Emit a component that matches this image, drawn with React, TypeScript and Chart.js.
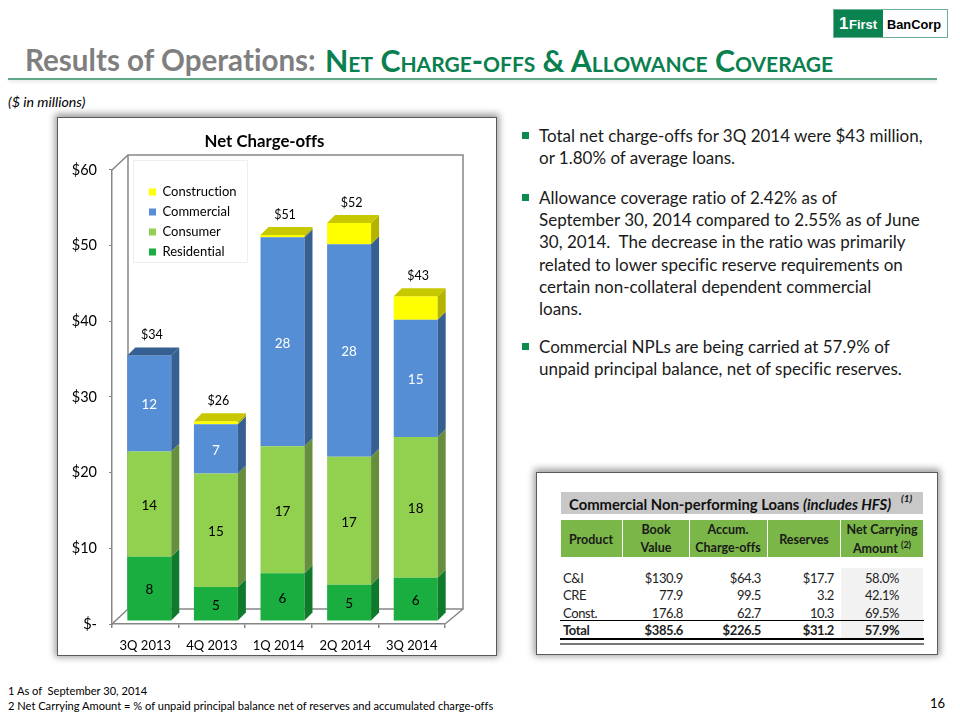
import React, { useEffect, useRef } from "react";
import { Chart, registerables } from "chart.js";

Chart.register(...registerables);

const FONT = "Lato, 'Open Sans', sans-serif";

const categories = ["3Q 2013", "4Q 2013", "1Q 2014", "2Q 2014", "3Q 2014"];
const residential = [8.5, 4.5, 6.3, 4.8, 5.7];
const consumer = [13.9, 15.0, 16.8, 16.9, 18.6];
const commercial = [12.7, 6.5, 27.6, 28.1, 15.5];
const construction = [0, 0.4, 0.3, 2.8, 3.1];
const residentialLabels = ["8", "5", "6", "5", "6"];
const consumerLabels = ["14", "15", "17", "17", "18"];
const commercialLabels = ["12", "7", "28", "28", "15"];
const totalLabels = ["$34", "$26", "$51", "$52", "$43"];
const yTicks = [0, 10, 20, 30, 40, 50, 60];

const bullets = [
  ["Total net charge-offs for 3Q 2014 were $43 million,", "or 1.80% of average loans."],
  [
    "Allowance coverage ratio of 2.42% as of",
    "September 30, 2014 compared to 2.55% as of June",
    "30, 2014.  The decrease in the ratio was primarily",
    "related to lower specific reserve requirements on",
    "certain non-collateral dependent commercial",
    "loans.",
  ],
  ["Commercial NPLs are being carried at 57.9% of", "unpaid principal balance, net of specific reserves."],
];

const tableProducts = ["C&I", "CRE", "Const.", "Total"];
const tableBook = ["$130.9", "77.9", "176.8", "$385.6"];
const tableCharge = ["$64.3", "99.5", "62.7", "$226.5"];
const tableReserves = ["$17.7", "3.2", "10.3", "$31.2"];
const tableNet = ["58.0%", "42.1%", "69.5%", "57.9%"];

const FRONT = { x: 4, y: -3 };
const DEPTH = 8;
const WALL = { x: 16, y: -15 };

const palette = [
  { front: "#1aad40", side: "#0f7a2b", top: "#0f7a2b", label: "#000000" },
  { front: "#92d050", side: "#668e3c", top: "#668e3c", label: "#000000" },
  { front: "#558ed5", side: "#376092", top: "#376092", label: "#ffffff" },
  { front: "#ffff00", side: "#b3b300", top: "#c8c800", label: "#000000" },
];
const segmentLabels = [residentialLabels, consumerLabels, commercialLabels];

const threeD = {
  id: "threeD",
  beforeDraw(chart: any) {
    const { ctx, chartArea: a, legend, titleBlock } = chart;
    ctx.textRendering = "optimizeSpeed";
    if (titleBlock) titleBlock.left = 27;
    ctx.save();
    ctx.strokeStyle = "#868686";
    ctx.lineWidth = 1.5;
    ctx.beginPath();
    ctx.moveTo(a.left, a.top);
    ctx.lineTo(a.left + WALL.x, a.top + WALL.y);
    ctx.lineTo(a.right + WALL.x + 2, a.top + WALL.y);
    ctx.lineTo(a.right + WALL.x + 2, a.bottom + WALL.y);
    ctx.lineTo(a.left + WALL.x, a.bottom + WALL.y);
    ctx.lineTo(a.left + WALL.x, a.top + WALL.y);
    ctx.moveTo(a.left + WALL.x, a.bottom + WALL.y);
    ctx.lineTo(a.left, a.bottom);
    ctx.moveTo(a.right + WALL.x + 2, a.bottom + WALL.y);
    ctx.lineTo(a.right, a.bottom);
    ctx.stroke();
    ctx.restore();
    if (legend) {
      legend.left = a.left + WALL.x + 14;
      legend.top = a.top + 8.5;
      legend.right = legend.left + legend.width;
      legend.bottom = legend.top + legend.height;
      ctx.save();
      ctx.fillStyle = "#ffffff";
      ctx.strokeStyle = "#eeeeee";
      ctx.lineWidth = 1;
      ctx.beginPath();
      ctx.rect(a.left + WALL.x + 5.5, a.top - 9.5, 114, 102);
      ctx.fill();
      ctx.stroke();
      ctx.restore();
    }
  },
  beforeDatasetsDraw(chart: any) {
    chart.ctx.save();
    chart.ctx.translate(FRONT.x, FRONT.y);
  },
  afterDatasetsDraw(chart: any) {
    const { ctx } = chart;
    const count = chart.data.labels.length;
    for (let i = 0; i < count; i++) {
      let topmost = -1;
      chart.data.datasets.forEach((d: any, di: number) => {
        if (d.data[i] > 0) topmost = di;
      });
      chart.data.datasets.forEach((d: any, di: number) => {
        if (!(d.data[i] > 0)) return;
        const bar: any = chart.getDatasetMeta(di).data[i];
        const half = bar.width / 2;
        const l = bar.x - half;
        const r = bar.x + half;
        const t = bar.y;
        const b = bar.base;
        const c = palette[di];
        ctx.fillStyle = c.side;
        ctx.beginPath();
        ctx.moveTo(r, t);
        ctx.lineTo(r + DEPTH, t - DEPTH);
        ctx.lineTo(r + DEPTH, b - DEPTH);
        ctx.lineTo(r, b);
        ctx.closePath();
        ctx.fill();
        if (di === topmost) {
          ctx.fillStyle = c.top;
          ctx.beginPath();
          ctx.moveTo(l, t);
          ctx.lineTo(l + DEPTH, t - DEPTH);
          ctx.lineTo(r + DEPTH, t - DEPTH);
          ctx.lineTo(r, t);
          ctx.closePath();
          ctx.fill();
        }
      });
    }
    ctx.textAlign = "center";
    ctx.textBaseline = "middle";
    ctx.font = `13.5px ${FONT}`;
    segmentLabels.forEach((labels, di) => {
      labels.forEach((text, i) => {
        const bar: any = chart.getDatasetMeta(di).data[i];
        ctx.fillStyle = palette[di].label;
        ctx.fillText(text, bar.x, (bar.y + bar.base) / 2 + 1.5);
      });
    });
    ctx.fillStyle = "#000000";
    ctx.font = `12.5px ${FONT}`;
    totalLabels.forEach((text, i) => {
      const di = chart.data.datasets.length - 1;
      const bar: any = chart.getDatasetMeta(di).data[i];
      ctx.fillText(text, bar.x + 2.5, bar.y - 20);
    });
    ctx.restore();
  },
};

function NetChargeOffs() {
  const ref = useRef<HTMLCanvasElement | null>(null);
  useEffect(() => {
    if (!ref.current) return;
    const series = [
      ["Residential", residential],
      ["Consumer", consumer],
      ["Commercial", commercial],
      ["Construction", construction],
    ] as const;
    const chart = new Chart(ref.current, {
      type: "bar",
      data: {
        labels: categories,
        datasets: series.map(([label, data], i) => ({
          label,
          data: [...data],
          backgroundColor: palette[i].front,
          borderWidth: 0,
          barPercentage: 1,
          categoryPercentage: 0.66,
        })),
      },
      plugins: [threeD],
      options: {
        responsive: false,
        animation: false,
        layout: { padding: { left: 0, right: 27, top: 0, bottom: 0 } },
        plugins: {
          tooltip: { enabled: false },
          title: {
            display: true,
            text: "Net Charge-offs",
            color: "#000000",
            font: { family: FONT, size: 16.8, weight: "bold" },
            padding: { top: 15, bottom: 17.8 },
          },
          legend: {
            position: "chartArea",
            align: "start",
            reverse: true,
            labels: {
              boxWidth: 7,
              boxHeight: 7,
              padding: 7,
              color: "#000000",
              font: { family: FONT, size: 13 },
            },
          },
        },
        scales: {
          x: {
            stacked: true,
            offset: true,
            afterFit: (s: any) => { s.height = 32; },
            border: { color: "#868686", width: 1.5 },
            grid: { drawOnChartArea: false, tickLength: 4, color: "#868686", lineWidth: 1.5, offset: true },
            ticks: { color: "#000000", font: { family: FONT, size: 13 }, padding: 10, maxRotation: 0 },
          },
          y: {
            stacked: true,
            min: 0,
            max: 60,
            afterFit: (s: any) => { s.width = 55; },
            afterBuildTicks: (s: any) => { s.ticks = yTicks.map((value) => ({ value })); },
            border: { color: "#868686", width: 1.5, dash: [3, 1] },
            grid: { drawOnChartArea: false, tickLength: 3, color: "#868686" },
            ticks: {
              color: "#000000",
              font: { family: FONT, size: 14.5 },
              padding: 12,
              callback: (v: any) => (Number(v) === 0 ? "$-" : `$${v}`),
            },
          },
        },
      },
    } as any);
    return () => chart.destroy();
  }, []);
  return <canvas ref={ref} width={415} height={539} style={{ display: "block", position: "absolute", left: 57, top: 117 }} />;
}

function Text(props: { x: number; y: number; align?: "left" | "right" | "center"; w?: number; style?: React.CSSProperties; children: React.ReactNode }) {
  const { x, y, align = "left", w = 0, style, children } = props;
  const pos: React.CSSProperties =
    align === "left" ? { left: x } : align === "right" ? { right: 960 - x } : { left: x - w / 2, width: w, textAlign: "center" };
  return (
    <div style={{ position: "absolute", top: y - 15, lineHeight: "30px", height: 30, whiteSpace: "pre", fontVariantLigatures: "none", ...pos, ...style }}>
      {children}
    </div>
  );
}

function Panel(props: { x: number; y: number; w: number; h: number }) {
  return (
    <div
      style={{
        position: "absolute",
        left: props.x,
        top: props.y,
        width: props.w,
        height: props.h,
        boxSizing: "border-box",
        background: "#fff",
        border: "1.5px solid #5a5a5a",
        boxShadow: "0 -1px 7px 2px rgba(0,0,0,0.4)",
      }}
    />
  );
}

const Box = (p: { x: number; y: number; w: number; h: number; c: string }) => (
  <div style={{ position: "absolute", left: p.x, top: p.y, width: p.w, height: p.h, background: p.c }} />
);

const headerCols = [
  { x: 561, w: 61 },
  { x: 623, w: 66 },
  { x: 690, w: 77 },
  { x: 768, w: 72 },
  { x: 841, w: 82 },
];
const rowY = [578, 595, 613, 630];

export default function App() {
  useEffect(() => {
    document.body.style.margin = "0";
  }, []);
  const hdr: React.CSSProperties = { fontWeight: 700, fontSize: 12.5, color: "#1a1a1a" };
  const cell: React.CSSProperties = { fontSize: 13, color: "#222", letterSpacing: -0.4 };
  return (
    <div style={{ position: "absolute", left: 0, top: 0, width: 960, height: 720, overflow: "hidden", background: "#fff", fontFamily: FONT }}>
      <Text x={25} y={60} style={{ fontSize: 29.6, fontWeight: 700, color: "#7f7f7f" }}>
        Results of Operations:{" "}
      </Text>
      <Text x={325} y={60} style={{ fontSize: 30.3, fontWeight: 700, color: "#0a7f4f", fontVariant: "small-caps" }}>
        Net Charge-offs &amp; Allowance Coverage
      </Text>
      <div style={{ position: "absolute", left: 8, top: 78, width: 929, height: 2, background: "#5fa888", boxShadow: "0 2px 3px rgba(0,0,0,0.12)" }} />

      <div style={{ position: "absolute", left: 833, top: 9, width: 115, height: 29, boxSizing: "border-box", border: "1px solid #6fb096", background: "#fff" }} />
      <Box x={834} y={10} w={49} h={27} c="#0b8350" />
      <Text x={839} y={23.5} style={{ fontFamily: "'Liberation Sans', sans-serif", fontWeight: 700, fontSize: 17, color: "#fff" }}>
        1
      </Text>
      <Text x={849} y={24.5} style={{ fontFamily: "'Liberation Sans', sans-serif", fontWeight: 700, fontSize: 13, color: "#fff" }}>
        First
      </Text>
      <Text x={887} y={24.5} style={{ fontFamily: "'Liberation Sans', sans-serif", fontWeight: 700, fontSize: 12.8, color: "#000" }}>
        BanCorp
      </Text>

      <Text x={8} y={102} style={{ fontSize: 14.2, fontStyle: "italic", color: "#000" }}>
        ($ in millions)
      </Text>

      <Panel x={57} y={117} w={440} h={539} />
      <NetChargeOffs />

      {bullets.map((lines, i) => {
        const top = [136, 198, 347][i];
        return (
          <React.Fragment key={i}>
            <Box x={522} y={top - 4} w={6.5} h={6.5} c="#0e8a50" />
            {lines.map((t, j) => (
              <Text key={j} x={539} y={top + j * 22.2} style={{ fontSize: 17, color: "#1a1a1a" }}>
                {t}
              </Text>
            ))}
          </React.Fragment>
        );
      })}

      <Panel x={536} y={472} w={402} h={183} />
      <Box x={561} y={492} w={362} h={22} c="#c8c8c8" />
      <Text x={569} y={504} style={{ fontSize: 14.8, fontWeight: 700, color: "#111" }}>
        Commercial Non-performing Loans <i>(includes HFS)</i>
      </Text>
      <Text x={901} y={498} style={{ fontSize: 10, fontWeight: 700, fontStyle: "italic", color: "#111" }}>
        (1)
      </Text>
      {headerCols.map((c, i) => (
        <Box key={i} x={c.x} y={520} w={c.w} h={37} c="#7ab648" />
      ))}
      <Text x={591} y={540} align="center" w={60} style={hdr}>Product</Text>
      <Text x={656} y={530} align="center" w={60} style={hdr}>Book</Text>
      <Text x={656} y={548} align="center" w={60} style={hdr}>Value</Text>
      <Text x={728} y={530} align="center" w={76} style={hdr}>Accum.</Text>
      <Text x={728} y={548} align="center" w={76} style={hdr}>Charge-offs</Text>
      <Text x={804} y={540} align="center" w={70} style={hdr}>Reserves</Text>
      <Text x={882} y={530} align="center" w={82} style={hdr}>Net Carrying</Text>
      <Text x={882} y={549} align="center" w={82} style={hdr}>
        Amount <sup style={{ fontSize: 9, lineHeight: 0 }}>(2)</sup>
      </Text>
      <Box x={841} y={568} w={82} h={70} c="#f2f2f2" />
      {tableProducts.map((p, i) => {
        const s: React.CSSProperties = { ...cell, fontWeight: i === 3 ? 700 : 400 };
        return (
          <React.Fragment key={p}>
            <Text x={563} y={rowY[i]} style={s}>{p}</Text>
            <Text x={683} y={rowY[i]} align="right" style={s}>{tableBook[i]}</Text>
            <Text x={761} y={rowY[i]} align="right" style={s}>{tableCharge[i]}</Text>
            <Text x={834} y={rowY[i]} align="right" style={s}>{tableReserves[i]}</Text>
            <Text x={882} y={rowY[i]} align="center" w={82} style={s}>{tableNet[i]}</Text>
          </React.Fragment>
        );
      })}
      <Box x={560} y={620} w={364} h={1} c="#000" />
      <Box x={560} y={638} w={364} h={2} c="#000" />
      <Box x={560} y={643} w={364} h={1.5} c="#777" />

      <Text x={8} y={691} style={{ fontSize: 11.1, color: "#000" }}>1 As of  September 30, 2014</Text>
      <Text x={8} y={706} style={{ fontSize: 11.1, color: "#000" }}>2 Net Carrying Amount = % of unpaid principal balance net of reserves and accumulated charge-offs</Text>
      <Text x={930} y={703} style={{ fontSize: 13, color: "#000" }}>16</Text>
    </div>
  );
}
